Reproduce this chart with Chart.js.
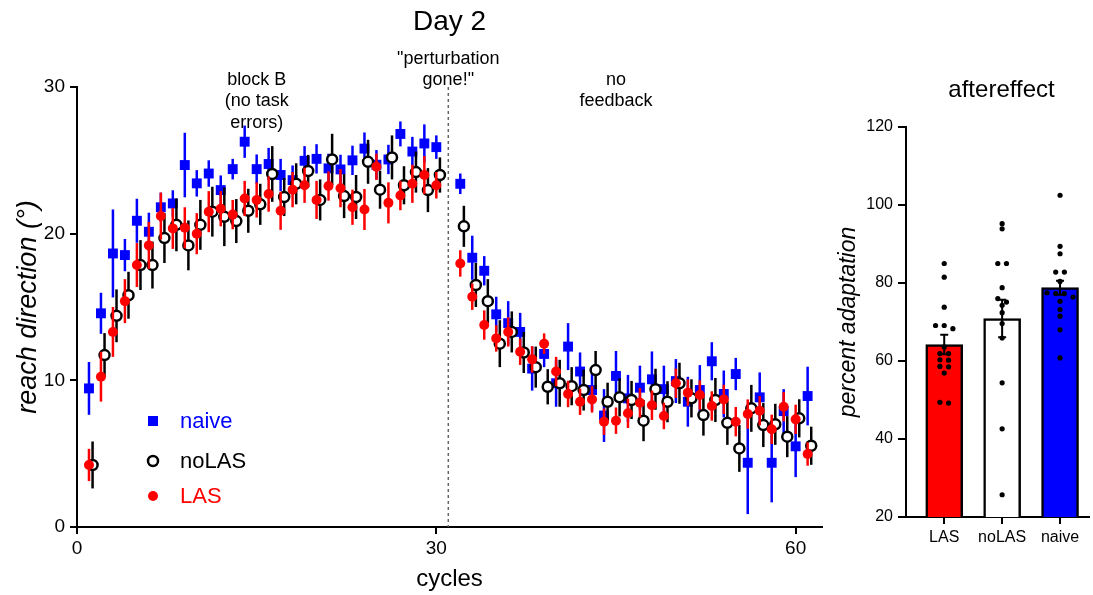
<!DOCTYPE html>
<html>
<head>
<meta charset="utf-8">
<title>Day 2 reach direction and aftereffect</title>
<script src="https://cdn.jsdelivr.net/npm/chart.js@4.4.1/dist/chart.umd.min.js"></script>
<style>
  html, body { margin: 0; padding: 0; background: #fff; }
  #wrap { position: relative; width: 1093px; height: 595px; }
  #reachBox { position: absolute; left: 0; top: 0; width: 830px; height: 595px; }
  #afterBox { position: absolute; left: 830px; top: 0; width: 263px; height: 595px; }
</style>
</head>
<body>
<div id="wrap">
  <div id="reachBox"><canvas id="reachChart"></canvas></div>
  <div id="afterBox"><canvas id="afterChart"></canvas></div>
</div>
<script>
// ---- data: reach direction per cycle (mean and error) ----
const cycles = [1, 2, 3, 4, 5, 6, 7, 8, 9, 10, 11, 12, 13, 14, 15, 16, 17, 18, 19, 20,
  21, 22, 23, 24, 25, 26, 27, 28, 29, 30,
  32, 33, 34, 35, 36, 37, 38, 39, 40, 41, 42, 43, 44, 45, 46, 47, 48, 49, 50, 51,
  52, 53, 54, 55, 56, 57, 58, 59, 60, 61];

const naive = [9.45, 14.57, 18.65, 18.54, 20.88, 20.13, 21.8, 22.06, 24.68, 23.43,
  24.1, 22.97, 24.4, 26.27, 24.4, 24.75, 24.0, 23.65, 24.97, 25.1,
  24.45, 24.38, 25.0, 25.8, 24.7, 25.06, 26.8, 25.6, 26.15, 25.9,
  23.4, 18.36, 17.47, 14.5, 13.9, 13.3, 10.8, 11.8, 9.8, 12.3,
  10.6, 9.34, 7.6, 10.3, 8.77, 9.5, 10.07, 9.4, 9.95, 8.54,
  9.34, 11.3, 9.07, 10.43, 4.38, 8.84, 4.38, 7.9, 5.5, 8.93];
const naiveErr = [1.8, 1.4, 3.0, 1.1, 1.5, 1.3, 1.0, 0.9, 2.2, 0.9,
  0.9, 1.0, 0.7, 1.1, 1.0, 1.1, 1.1, 1.0, 1.0, 1.0,
  1.0, 1.0, 1.0, 1.1, 1.0, 1.0, 0.85, 1.0, 1.3, 0.8,
  0.7, 1.5, 1.0, 1.2, 1.5, 1.3, 1.5, 0.9, 1.6, 1.6,
  1.3, 1.4, 1.8, 1.7, 1.6, 1.5, 1.9, 1.6, 1.5, 1.7,
  1.7, 1.3, 1.6, 1.1, 3.5, 1.7, 2.7, 1.5, 2.1, 2.0];

const noLAS = [4.23, 11.72, 14.4, 15.8, 17.86, 17.86, 19.7, 20.6, 19.2, 20.6,
  21.5, 21.15, 20.86, 21.56, 22.0, 24.07, 22.5, 23.4, 24.27, 22.3,
  25.06, 22.56, 22.5, 24.9, 23.0, 25.2, 23.3, 24.2, 22.97, 24.0,
  20.5, 16.5, 15.4, 12.5, 13.3, 11.9, 10.9, 9.56, 9.8, 9.6,
  9.34, 10.7, 8.54, 8.84, 8.66, 7.25, 9.39, 8.54, 9.8, 8.77,
  7.63, 8.66, 7.1, 5.36, 8.09, 6.95, 7.0, 6.16, 7.41, 5.54];
const noLASErr = [1.6, 1.5, 1.8, 1.6, 1.7, 1.6, 1.7, 1.8, 1.7, 1.7,
  1.7, 2.0, 1.5, 1.5, 1.4, 1.9, 1.3, 1.4, 1.1, 1.4,
  1.75, 1.5, 1.5, 1.5, 1.3, 1.5, 1.3, 1.4, 1.5, 1.2,
  1.4, 1.5, 1.5, 1.6, 1.4, 1.4, 1.4, 1.2, 1.6, 1.3,
  1.4, 1.3, 1.3, 1.3, 1.3, 1.4, 1.4, 1.4, 1.4, 1.3,
  1.4, 1.5, 1.5, 1.6, 1.6, 1.5, 1.4, 1.4, 1.3, 1.3];

const LAS = [4.23, 10.25, 13.3, 15.4, 17.86, 19.2, 21.2, 20.36, 20.4, 20.0,
  21.5, 21.7, 21.3, 22.4, 22.3, 22.7, 21.56, 23.0, 23.3, 22.3,
  23.25, 23.1, 21.8, 21.65, 24.56, 22.1, 22.6, 23.4, 24.0, 23.3,
  17.97, 15.7, 13.77, 12.86, 13.3, 11.95, 11.43, 12.5, 10.6, 9.07,
  8.54, 8.7, 7.18, 7.25, 7.75, 8.47, 8.3, 7.57, 9.8, 9.16,
  9.0, 8.25, 8.7, 7.18, 7.7, 7.93, 6.66, 8.2, 7.34, 4.98];
const LASErr = [1.1, 1.7, 1.7, 1.5, 1.5, 1.6, 1.6, 1.4, 1.4, 1.4,
  1.4, 1.2, 1.0, 1.2, 1.2, 1.2, 1.3, 1.2, 1.2, 1.3,
  1.0, 1.3, 1.2, 1.4, 0.9, 1.4, 1.0, 1.3, 1.3, 0.9,
  0.9, 0.9, 1.0, 0.9, 1.0, 0.9, 0.9, 0.7, 1.0, 0.9,
  0.9, 0.9, 0.9, 0.9, 1.0, 1.0, 1.0, 0.9, 1.0, 0.9,
  1.0, 1.0, 1.0, 1.0, 1.0, 1.0, 1.0, 1.0, 1.0, 0.8];

const perturbationOffCycle = 31;
const cycleTicks = [0, 30, 60];

// ---- data: aftereffect (percent adaptation) ----
const groups = ['LAS', 'noLAS', 'naive'];
const groupMeans = [64.2, 70.9, 78.8];
const groupSem = [2.5, 4.8, 1.8];
const lasDots = [85.0, 81.5, 73.8, 69.1, 69.1, 68.3, 63.6, 61.9, 61.9, 60.3, 60.2, 58.6, 58.5, 56.9, 49.4, 49.2];
const noLasDots = [95.2, 93.9, 85.0, 85.0, 78.8, 76.0, 75.1, 74.3, 72.4, 69.6, 65.9, 54.4, 42.6, 25.7];
const naiveDots = [102.5, 89.4, 87.5, 82.8, 82.8, 80.4, 77.5, 77.3, 77.3, 76.4, 75.3, 73.2, 71.5, 68.0, 60.8];

const FONT = '"Liberation Sans", Arial, Helvetica, sans-serif';
const BLUE = '#0000ff';
const RED = '#ff0000';
const NOLAS_NUDGE = 0.3;   // small horizontal nudge so circles don't sit on top of the others

function points(values, errs, nudge) {
  return values.map((v, i) => ({ x: cycles[i] + nudge, y: v, err: errs[i] }));
}

// error bars drawn just before each dataset's markers
const errorBars = {
  id: 'errorBars',
  beforeDatasetDraw(chart, args) {
    const ds = chart.data.datasets[args.index];
    if (!ds.showErr) return;
    const yScale = chart.scales.y;
    const ctx = chart.ctx;
    ctx.save();
    ctx.strokeStyle = ds.borderColor;
    ctx.lineWidth = 2.5;
    args.meta.data.forEach((pt, i) => {
      const d = ds.data[i];
      ctx.beginPath();
      ctx.moveTo(pt.x, yScale.getPixelForValue(d.y - d.err));
      ctx.lineTo(pt.x, yScale.getPixelForValue(d.y + d.err));
      ctx.stroke();
    });
    ctx.restore();
  }
};

const reachDecor = {
  id: 'reachDecor',
  beforeDatasetsDraw(chart) {
    const { ctx, chartArea, scales: { x } } = chart;
    const px = x.getPixelForValue(perturbationOffCycle);
    ctx.save();
    ctx.strokeStyle = '#666';
    ctx.lineWidth = 1.5;
    ctx.setLineDash([3, 3]);
    ctx.beginPath();
    ctx.moveTo(px, chartArea.top);
    ctx.lineTo(px, chartArea.bottom);
    ctx.stroke();
    ctx.restore();
  },
  afterDraw(chart) {
    const { ctx, chartArea, scales: { x } } = chart;
    ctx.save();
    ctx.fillStyle = '#000';
    ctx.textAlign = 'center';
    ctx.textBaseline = 'middle';
    ctx.font = '28px ' + FONT;
    ctx.fillText('Day 2', (chartArea.left + chartArea.right) / 2, 22);

    ctx.font = '18px ' + FONT;
    const notes = [
      { at: 15, lines: ['block B', '(no task', 'errors)'], top: 80 },
      { at: perturbationOffCycle, lines: ['"perturbation', 'gone!"'], top: 59 },
      { at: 45, lines: ['no', 'feedback'], top: 80 }
    ];
    notes.forEach(n => {
      n.lines.forEach((t, i) => ctx.fillText(t, x.getPixelForValue(n.at), n.top + i * 21.5));
    });

    // legend inside the plot
    const items = [
      { label: 'naive', color: BLUE, y: 421 },
      { label: 'noLAS', color: '#000', y: 461 },
      { label: 'LAS', color: RED, y: 496 }
    ];
    const mx = 153;
    ctx.textAlign = 'left';
    ctx.font = '22px ' + FONT;
    items.forEach(it => {
      ctx.fillStyle = it.color;
      if (it.label === 'naive') {
        ctx.fillRect(mx - 5, it.y - 5, 10, 10);
      } else if (it.label === 'noLAS') {
        ctx.beginPath();
        ctx.arc(mx, it.y, 5, 0, Math.PI * 2);
        ctx.fillStyle = '#fff';
        ctx.fill();
        ctx.lineWidth = 2.5;
        ctx.strokeStyle = '#000';
        ctx.stroke();
      } else {
        ctx.beginPath();
        ctx.arc(mx, it.y, 5, 0, Math.PI * 2);
        ctx.fill();
      }
      ctx.fillStyle = it.color;
      ctx.fillText(it.label, 180, it.y + 1);
    });
    ctx.restore();
  }
};

new Chart(document.getElementById('reachChart'), {
  type: 'scatter',
  data: {
    datasets: [
      {
        label: 'naive', data: points(naive, naiveErr, 0), showErr: true, order: 3,
        pointStyle: 'rect', pointRadius: 7, backgroundColor: BLUE, borderColor: BLUE, borderWidth: 0
      },
      {
        label: 'noLAS', data: points(noLAS, noLASErr, NOLAS_NUDGE), showErr: true, order: 2,
        pointStyle: 'circle', pointRadius: 5, backgroundColor: '#fff', borderColor: '#000', borderWidth: 2.5
      },
      {
        label: 'LAS', data: points(LAS, LASErr, 0), showErr: true, order: 1,
        pointStyle: 'circle', pointRadius: 5, backgroundColor: RED, borderColor: RED, borderWidth: 0
      }
    ]
  },
  options: {
    responsive: true,
    maintainAspectRatio: false,
    animation: false,
    events: [],
    layout: { padding: { top: 87, right: 8, bottom: 0, left: 0 } },
    plugins: { legend: { display: false }, tooltip: { enabled: false } },
    scales: {
      x: {
        type: 'linear', min: 0, max: 62.2,
        afterBuildTicks: s => { s.ticks = cycleTicks.map(v => ({ value: v })); },
        afterFit: s => { s.height = 68; },
        grid: { drawOnChartArea: false, tickLength: 7, color: '#000', lineWidth: 2 },
        border: { color: '#000', width: 2 },
        ticks: { color: '#000', padding: 3, font: { family: FONT, size: 19 } },
        title: { display: true, text: 'cycles', color: '#000', padding: { top: 0, bottom: 1 },
          font: { family: FONT, size: 24 } }
      },
      y: {
        min: 0, max: 30,
        ticks: { stepSize: 10, color: '#000', padding: 5, font: { family: FONT, size: 19 } },
        afterFit: s => { s.width = 77; },
        grid: { drawOnChartArea: false, tickLength: 7, color: '#000', lineWidth: 2 },
        border: { color: '#000', width: 2 },
        title: { display: true, text: 'reach direction (°)', color: '#000', padding: { top: 12, bottom: 0 },
          font: { family: FONT, size: 27, style: 'italic' } }
      }
    }
  },
  plugins: [errorBars, reachDecor]
});

// ---- aftereffect bar chart ----
function swarm(values, center) {
  const sorted = [...values].sort((a, b) => b - a);
  const out = [];
  let i = 0;
  while (i < sorted.length) {
    let j = i;
    while (j + 1 < sorted.length && sorted[i] - sorted[j + 1] <= 1.2) j++;
    const n = j - i + 1;
    for (let k = 0; k < n; k++) out.push({ x: center + (k - (n - 1) / 2) * 0.15, y: sorted[i + k] });
    i = j + 1;
  }
  return out;
}

const semBars = {
  id: 'semBars',
  afterDatasetDraw(chart, args) {
    if (args.index !== 0) return;
    const { ctx, scales: { y } } = chart;
    ctx.save();
    ctx.strokeStyle = '#000';
    ctx.lineWidth = 2;
    args.meta.data.forEach((bar, i) => {
      const top = y.getPixelForValue(groupMeans[i] + groupSem[i]);
      const bot = y.getPixelForValue(groupMeans[i] - groupSem[i]);
      ctx.beginPath();
      ctx.moveTo(bar.x, top); ctx.lineTo(bar.x, bot);
      ctx.moveTo(bar.x - 4, top); ctx.lineTo(bar.x + 4, top);
      ctx.moveTo(bar.x - 4, bot); ctx.lineTo(bar.x + 4, bot);
      ctx.stroke();
    });
    ctx.restore();
  },
  afterDraw(chart) {
    const { ctx, chartArea } = chart;
    ctx.save();
    ctx.fillStyle = '#000';
    ctx.textAlign = 'center';
    ctx.textBaseline = 'middle';
    ctx.font = '24px ' + FONT;
    ctx.fillText('aftereffect', (chartArea.left + chartArea.right) / 2 + 4, 90);
    ctx.restore();
  }
};

const dotsData = [].concat(swarm(lasDots, 0), swarm(noLasDots, 1), swarm(naiveDots, 2));

new Chart(document.getElementById('afterChart'), {
  type: 'bar',
  data: {
    datasets: [
      {
        type: 'bar',
        label: 'mean',
        data: groupMeans.map((m, i) => ({ x: i, y: m })),
        backgroundColor: [RED, '#fff', BLUE],
        borderColor: '#000',
        borderWidth: 2.5,
        borderSkipped: false,
        barThickness: 37,
        order: 2
      },
      {
        type: 'scatter',
        label: 'subjects',
        data: dotsData,
        pointRadius: 2.6,
        backgroundColor: '#000',
        borderWidth: 0,
        order: 1
      }
    ]
  },
  options: {
    responsive: true,
    maintainAspectRatio: false,
    animation: false,
    events: [],
    layout: { padding: { top: 127, right: 3, bottom: 0, left: 0 } },
    plugins: { legend: { display: false }, tooltip: { enabled: false } },
    scales: {
      x: {
        type: 'linear', min: -0.66, max: 2.5, offset: false,
        afterBuildTicks: s => { s.ticks = groups.map((g, i) => ({ value: i })); },
        afterFit: s => { s.height = 78; },
        grid: { offset: false, drawOnChartArea: false, tickLength: 7, color: '#000', lineWidth: 2 },
        border: { color: '#000', width: 2 },
        ticks: { color: '#000', padding: 4, font: { family: FONT, size: 16 },
          callback: v => groups[v] }
      },
      y: {
        min: 20, max: 120,
        ticks: { stepSize: 20, color: '#000', padding: 5, font: { family: FONT, size: 16 } },
        afterFit: s => { s.width = 76; },
        grid: { drawOnChartArea: false, tickLength: 8, color: '#000', lineWidth: 2 },
        border: { color: '#000', width: 2 },
        title: { display: true, text: 'percent adaptation', color: '#000', padding: { top: 5, bottom: 0 },
          font: { family: FONT, size: 23, style: 'italic' } }
      }
    }
  },
  plugins: [semBars]
});
</script>
</body>
</html>
